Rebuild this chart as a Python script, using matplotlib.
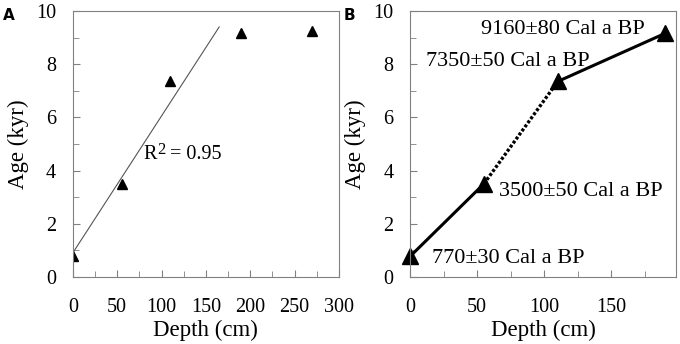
import matplotlib
matplotlib.use('Agg')
import matplotlib.pyplot as plt
from matplotlib.ticker import MultipleLocator

plt.rcParams['font.family'] = ['Liberation Serif', 'DejaVu Serif']

# Panel A data
depth_a = [0, 55, 110, 190, 270]
age_a = [0.77, 3.5, 7.35, 9.16, 9.25]
fit_x = [0, 165]
fit_y = [0.9, 9.4]

# Panel B data
depth_b = [0, 55, 110, 190]
age_b = [0.77, 3.5, 7.35, 9.16]
labels_b = ['770±30 Cal a BP', '3500±50 Cal a BP', '7350±50 Cal a BP', '9160±80 Cal a BP']
label_pos = [(16, 0.7, 'left'), (66, 3.2, 'left'), (12, 8.1, 'left'), (175, 9.3, 'right')]

spine_col = '#808080'

fig = plt.figure(figsize=(6.8, 3.44), dpi=100)
ax1 = fig.add_axes([0.107, 0.195, 0.3915, 0.773])
ax2 = fig.add_axes([0.603, 0.195, 0.391, 0.773])


def style(ax):
    for s in ax.spines.values():
        s.set_color(spine_col)
    ax.tick_params(which='both', direction='in', color=spine_col, labelsize=14.5)
    ax.tick_params(axis='y', pad=12)
    ax.tick_params(axis='x', pad=15)
    ax.tick_params(which='major', length=5)
    ax.tick_params(which='minor', length=4)
    ax.yaxis.set_major_locator(MultipleLocator(2))
    ax.yaxis.set_minor_locator(MultipleLocator(1))
    ax.xaxis.set_major_locator(MultipleLocator(50))
    ax.xaxis.set_minor_locator(MultipleLocator(25))
    ax.set_ylim(0, 10)
    ax.set_xlabel('Depth (cm)', fontsize=16.5, labelpad=2)
    ax.set_ylabel('Age (kyr)', fontsize=16.5, labelpad=5)


# A
ax1.plot(fit_x, fit_y, color='#555555', lw=0.8)
ax1.plot(depth_a, age_a, '^', color='black', markersize=6.5, linestyle='none')
# R^2 label, superscript drawn as its own text
ax1.annotate('R', (80, 4.6), fontsize=14.5, va='center')
ax1.annotate('2', (80, 4.6), xytext=(10, 3.5), textcoords='offset points',
             fontsize=12, va='center')
ax1.annotate('= 0.95', (80, 4.6), xytext=(19, 0), textcoords='offset points',
             fontsize=14.5, va='center')
ax1.set_xlim(0, 300)
style(ax1)

# B
ax2.plot(depth_b[:2], age_b[:2], color='black', lw=2.2)
ax2.plot(depth_b[1:3], age_b[1:3], color='black', lw=2.4, linestyle=(0, (0.9, 0.6)))
ax2.plot(depth_b[2:], age_b[2:], color='black', lw=2.2)
ax2.plot(depth_b, age_b, '^', color='black', markersize=11, linestyle='none', clip_on=False)
for lab, (x, y, ha) in zip(labels_b, label_pos):
    ax2.text(x, y, lab, fontsize=16, ha=ha, va='center')
ax2.set_xlim(0, 198)
style(ax2)

fig.text(0.005, 0.977, 'A', fontsize=11, fontweight='bold', family='DejaVu Sans', va='top')
fig.text(0.506, 0.977, 'B', fontsize=11, fontweight='bold', family='DejaVu Sans', va='top')

fig.savefig('out.png', dpi=100)
